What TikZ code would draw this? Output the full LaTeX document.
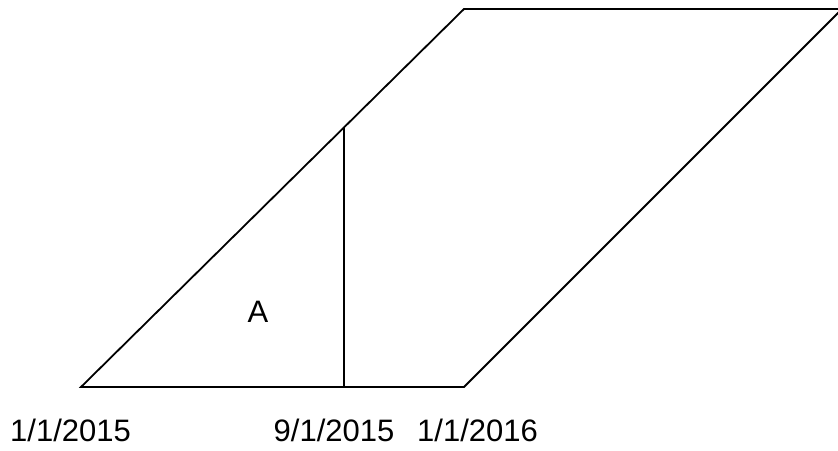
\documentclass[tikz,border=0pt]{standalone}
\usepackage{fontspec}
\setmainfont{Liberation Sans}
\begin{document}
\begin{tikzpicture}[x=1pt,y=1pt,
  edge/.style={line width=1.8pt,line join=miter},
  lbl/.style={font=\fontsize{31}{35}\selectfont,anchor=base,inner sep=0pt}]
\useasboundingbox (0,0) rectangle (838,450);
\clip (0,0) rectangle (838,450);
\coordinate (bl) at (81,63);
\coordinate (br) at (464,63);
\coordinate (tl) at (464,441);
\coordinate (tr) at (842,441);
\coordinate (vb) at (344,63);
\coordinate (vt) at (344,322);
\draw[edge] (bl) -- (br) -- (tr) -- (tl) -- cycle;
\draw[edge] (vb) -- (vt);
\node[lbl] (d1) at (70.5,9) {1/1/2015};
\node[lbl] (d2) at (334,9) {9/1/2015};
\node[lbl] (d3) at (477.5,9) {1/1/2016};
\node[lbl] (a) at (258,127) {A};
\end{tikzpicture}
\end{document}
